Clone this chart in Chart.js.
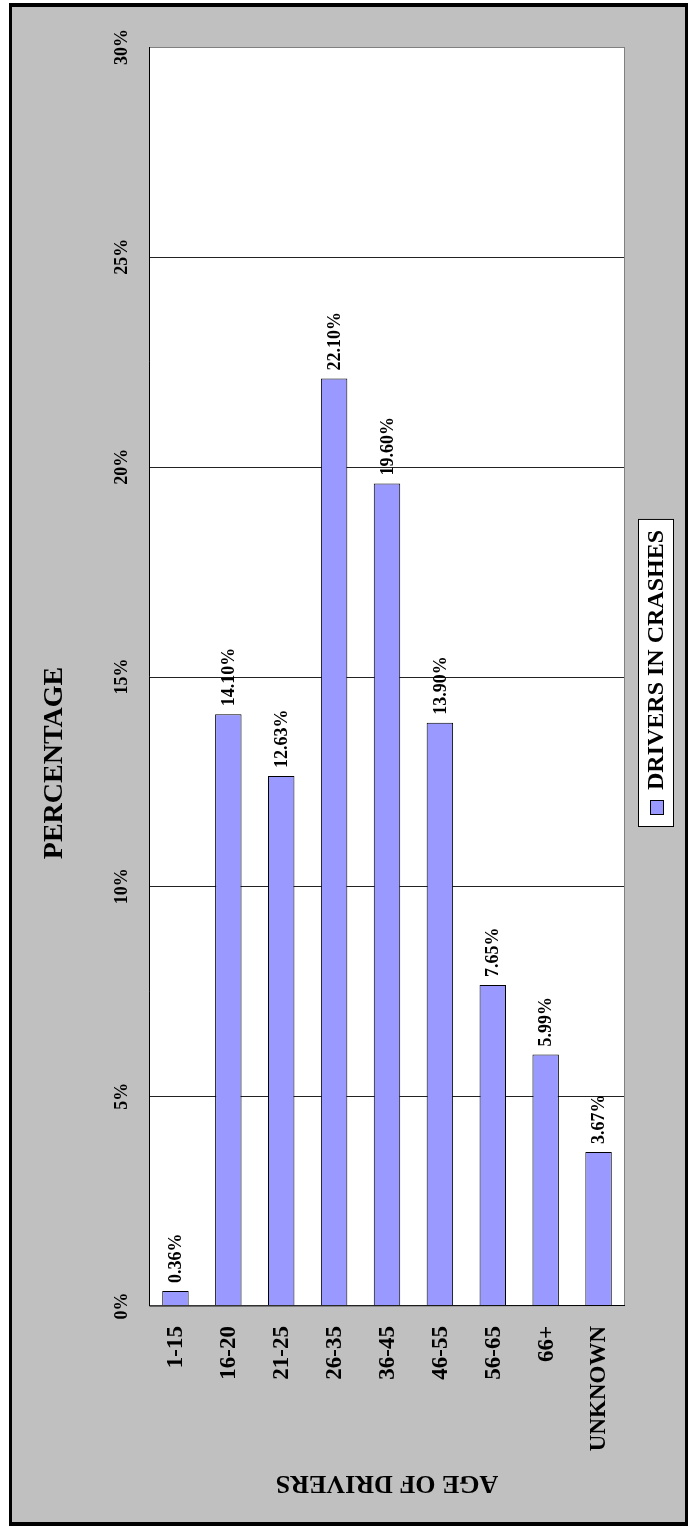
<!DOCTYPE html>
<html>
<head>
<meta charset="utf-8">
<script src="https://cdn.jsdelivr.net/npm/chart.js@4/dist/chart.umd.min.js"></script>
<style>
  html, body { margin: 0; padding: 0; background: #fff; }
  canvas { display: block; }
</style>
</head>
<body>
<canvas id="barChart" width="692" height="1526"></canvas>
<script>
// Drivers in crashes by age group
const ageGroups = ['1-15', '16-20', '21-25', '26-35', '36-45', '46-55', '56-65', '66+', 'UNKNOWN'];
const crashShare = [0.36, 14.10, 12.63, 22.10, 19.60, 13.90, 7.65, 5.99, 3.67];
const pctTicks = [0, 5, 10, 15, 20, 25, 30];
const seriesName = 'DRIVERS IN CRASHES';

const serif = '"Liberation Serif", "Times New Roman", serif';
const barFill = '#9999FF';

// frame, plot background and gridlines
const backdrop = {
  id: 'backdrop',
  beforeDraw(chart) {
    const c = chart.ctx;
    const a = chart.chartArea;
    const y = chart.scales.y;
    c.save();
    c.fillStyle = '#fff';
    c.fillRect(0, 0, chart.width, chart.height);
    c.fillStyle = '#C0C0C0';
    c.fillRect(9, 3, 679, 1523);
    c.fillStyle = '#000';
    c.fillRect(9, 3, 679, 4);
    c.fillRect(9, 3, 3, 1523);
    c.fillRect(685, 3, 3, 1523);
    c.fillRect(9, 1522, 679, 4);
    c.fillStyle = '#fff';
    c.fillRect(a.left, a.top, a.right - a.left, a.bottom - a.top);
    c.strokeStyle = '#222';
    c.lineWidth = 1;
    pctTicks.forEach(t => {
      if (t === 0 || t === 30) return;
      const py = Math.round(y.getPixelForValue(t)) + 0.5;
      c.beginPath();
      c.moveTo(a.left, py);
      c.lineTo(a.right, py);
      c.stroke();
    });
    c.restore();
  }
};

// rotated texts, axes, legend
const labels = {
  id: 'labels',
  afterDraw(chart) {
    const c = chart.ctx;
    const a = chart.chartArea;
    const x = chart.scales.x;
    const y = chart.scales.y;
    c.save();
    // plot border
    c.strokeStyle = '#808080';
    c.lineWidth = 1;
    c.strokeRect(a.left + 0.5, a.top + 0.5, a.right - a.left - 1, a.bottom - a.top - 1);
    c.strokeStyle = '#000';
    c.beginPath();
    c.moveTo(a.left + 0.5, a.top);
    c.lineTo(a.left + 0.5, a.bottom);
    c.lineTo(a.right, a.bottom - 0.5);
    c.stroke();

    c.fillStyle = '#000';
    // value axis ticks
    c.font = 'bold 18px ' + serif;
    c.textAlign = 'center';
    c.textBaseline = 'middle';
    pctTicks.forEach(t => {
      c.save();
      c.translate(122, y.getPixelForValue(t));
      c.rotate(-Math.PI / 2);
      c.fillText(t + '%', 0, 0);
      c.restore();
    });

    // category labels
    c.font = 'bold 23px ' + serif;
    c.textAlign = 'right';
    ageGroups.forEach((g, i) => {
      c.save();
      c.translate(x.getPixelForValue(i) + 1, a.bottom + 20);
      c.rotate(-Math.PI / 2);
      c.fillText(g, 0, 0);
      c.restore();
    });

    // value labels above bars
    c.font = 'bold 18px ' + serif;
    c.textAlign = 'left';
    const meta = chart.getDatasetMeta(0);
    meta.data.forEach((bar, i) => {
      c.save();
      c.translate(bar.x + 1, bar.y - 8);
      c.rotate(-Math.PI / 2);
      c.fillText(crashShare[i].toFixed(2) + '%', 0, 0);
      c.restore();
    });

    // axis titles
    c.textAlign = 'center';
    c.font = 'bold 28px ' + serif;
    c.save();
    c.translate(55, 763);
    c.rotate(-Math.PI / 2);
    c.fillText('PERCENTAGE', 0, 0);
    c.restore();
    c.font = 'bold 26px ' + serif;
    c.save();
    c.translate((a.left + a.right) / 2, 1483);
    c.rotate(Math.PI);
    c.fillText('AGE OF DRIVERS', 0, 0);
    c.restore();

    // legend
    c.font = 'bold 24px ' + serif;
    const textLen = c.measureText(seriesName).width;
    const boxBottom = 827;
    const boxTop = boxBottom - 40 - textLen - 8;
    c.fillStyle = '#fff';
    c.fillRect(638, boxTop, 36, boxBottom - boxTop);
    c.strokeStyle = '#000';
    c.strokeRect(638.5, boxTop + 0.5, 35, boxBottom - boxTop - 1);
    c.fillStyle = barFill;
    c.fillRect(650, 800, 14, 15);
    c.strokeRect(650.5, 800.5, 13, 14);
    c.fillStyle = '#000';
    c.textAlign = 'left';
    c.save();
    c.translate(657, 790);
    c.rotate(-Math.PI / 2);
    c.fillText(seriesName, 0, 0);
    c.restore();
    c.restore();
  }
};

const ctx = document.getElementById('barChart').getContext('2d');
new Chart(ctx, {
  type: 'bar',
  data: {
    labels: ageGroups,
    datasets: [{
      label: seriesName,
      data: crashShare,
      backgroundColor: barFill,
      borderColor: '#000',
      borderWidth: 1,
      barPercentage: 0.5,
      categoryPercentage: 1.0
    }]
  },
  options: {
    responsive: false,
    animation: false,
    layout: { padding: { left: 149, top: 47, right: 67, bottom: 220 } },
    plugins: { legend: { display: false }, tooltip: { enabled: false } },
    scales: {
      x: { display: false },
      y: { display: false, min: 0, max: 30 }
    }
  },
  plugins: [backdrop, labels]
});
</script>
</body>
</html>
